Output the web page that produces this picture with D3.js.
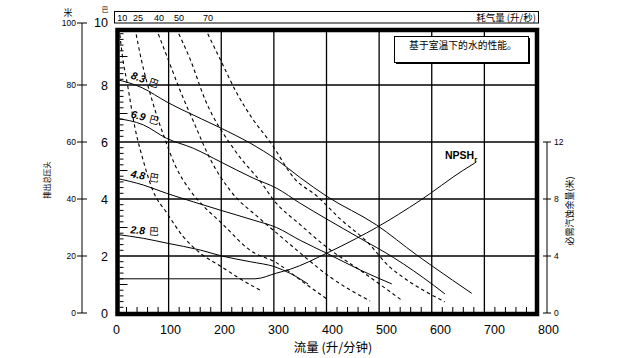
<!DOCTYPE html>
<html><head><meta charset="utf-8">
<script src="https://cdn.jsdelivr.net/npm/d3@7"></script>
<style>body{margin:0;background:#fff}text{font-family:"Liberation Sans",Arial,sans-serif}.cjk{font-family:"Noto Sans CJK SC",sans-serif}</style>
</head><body>
<svg id="c" width="643" height="358"></svg>
<script>
// ---------- data ----------
const flowTicks = [0,100,200,300,400,500,600,700,800];
const barTicks = [0,2,4,6,8,10];
const outerTicks = [0,20,40,60,80,100];
const npshTicks = [0,4,8,12];

const pressureNames = ["8.3","6.9","4.8","2.8"];
const p83Flow = [0,50,97,127,198,255,306,350,400,495,571,603,676];
const p83Head = [8.2,7.9,7.4,7.12,6.5,5.96,5.37,4.75,4.1,3.09,2.04,1.62,0.69];
const p69Flow = [0,52,96,147,198,261,305,350,400,464,527,603,625];
const p69Head = [6.83,6.6,6.13,5.78,5.31,4.73,4.38,3.85,3.3,2.62,1.95,0.98,0.67];
const p48Flow = [0,52,96,147,198,261,305,350,400,464,524];
const p48Head = [4.73,4.49,4.2,3.9,3.61,3.26,3.0,2.55,2.1,1.51,1.02];
const p28Flow = [0,52,97,160,201,255,302,331,365];
const p28Head = [2.76,2.62,2.45,2.21,2.0,1.8,1.62,1.39,1.02];

const airNames = ["10","25","40","50","70"];
const a10Flow = [6,13,21,36,51,70,97,127,160,198,236,277];
const a10Head = [10,8.9,8.1,6.5,5.4,4.3,3.5,2.7,2.1,1.65,1.2,0.77];
const a25Flow = [36,48,68,93,112,141,169,198,255,306,350,403];
const a25Head = [10,8.9,7.5,6.1,5.2,4.3,3.7,3.2,2.2,1.75,1.16,0.46];
const a40Flow = [76,99,122,150,179,217,274,312,344,407,483];
const a40Head = [10,8.9,7.8,6.6,5.4,4.3,3.3,2.7,2.2,1.26,0.42];
const a50Flow = [114,141,169,226,279,298,350,401,464,545];
const a50Head = [10,8.9,7.5,5.7,4.5,4.0,3.1,2.3,1.5,0.42];
const a70Flow = [169,198,230,260,293,340,382,426,477,521,545,625];
const a70Head = [10,8.9,7.7,6.8,6.0,4.7,4.1,3.3,2.5,1.6,1.26,0.39];

const npshFlow = [0,264,305,331,400,457,495,578,659,685];
const npshVal = [2.4,2.4,2.8,3.07,4.19,5.24,6.0,7.9,10.0,10.6];

// ---------- build ----------
const zip = (xs, ys) => xs.map((v,i)=>({x:v,y:ys[i]}));
const pressureSeries = [zip(p83Flow,p83Head),zip(p69Flow,p69Head),zip(p48Flow,p48Head),zip(p28Flow,p28Head)];
const airSeries = [zip(a10Flow,a10Head),zip(a25Flow,a25Head),zip(a40Flow,a40Head),zip(a50Flow,a50Head),zip(a70Flow,a70Head)];
const npsh = zip(npshFlow,npshVal);

const svg = d3.select("#c");
const x = d3.scaleLinear([0,800],[116,537]);
const xLab = d3.scaleLinear([0,800],[116,548]);
const y = d3.scaleLinear([0,10],[313,28]);
const yO = d3.scaleLinear([0,100],[313,28]);
const yR = d3.scaleLinear([0,12],[313,142]);

// grid
const g = svg.append("g").attr("stroke","#000").attr("stroke-width",1.3);
flowTicks.filter(v=>v>0&&v<800).forEach(v=>g.append("line").attr("x1",x(v)).attr("x2",x(v)).attr("y1",30).attr("y2",314));
barTicks.filter(v=>v>0&&v<10).forEach(v=>g.append("line").attr("x1",117).attr("x2",537).attr("y1",y(v)).attr("y2",y(v)));

// curves
const line = d3.line().x(d=>x(d.x)).y(d=>y(d.y)).curve(d3.curveMonotoneX);
const lineR = d3.line().x(d=>x(d.x)).y(d=>yR(d.y)).curve(d3.curveMonotoneX);
pressureSeries.forEach(s=>svg.append("path").attr("d",line(s)).attr("fill","none").attr("stroke","#000").attr("stroke-width",1));
airSeries.forEach(s=>svg.append("path").attr("d",line(s)).attr("fill","none").attr("stroke","#000").attr("stroke-width",1.1).attr("stroke-dasharray","3.5,3"));
svg.append("path").attr("d",lineR(npsh)).attr("fill","none").attr("stroke","#000").attr("stroke-width",1);

// frame
svg.append("rect").attr("x",117.5).attr("y",30).attr("width",419.5).attr("height",284)
  .attr("fill","none").attr("stroke","#000").attr("stroke-width",4.5);

// minor ticks
const mt = svg.append("g").attr("stroke","#000").attr("stroke-width",1);
d3.range(1,50).forEach(i=>{ if(i%10===0) return; const v=i/5; const len = (i%5===0)?8:4;
  mt.append("line").attr("x1",119.5).attr("x2",119.5+len).attr("y1",y(v)).attr("y2",y(v)); });
d3.range(1,40).forEach(i=>{ if(i%5===0) return; const v=i*20;
  mt.append("line").attr("x1",x(v)).attr("x2",x(v)).attr("y1",312).attr("y2",307); });

// legend box
svg.append("rect").attr("x",396).attr("y",38).attr("width",134).attr("height",26).attr("fill","#000");
svg.append("rect").attr("x",394.5).attr("y",36.5).attr("width",134).attr("height",26).attr("fill","#fff").attr("stroke","#000").attr("stroke-width",1);
svg.append("text").attr("class","cjk").attr("x",463).attr("y",49).attr("text-anchor","middle").attr("font-size",9.8).text("基于室温下的水的性能。");

// top air box
svg.append("rect").attr("x",114.5).attr("y",11.5).attr("width",424).attr("height",11.5).attr("fill","none").attr("stroke","#000").attr("stroke-width",1);
airSeries.forEach((s,i)=>svg.append("text").attr("x",x(s[0].x)+3).attr("y",21).attr("text-anchor","middle").attr("font-size",9).text(airNames[i]));
svg.append("text").attr("class","cjk").attr("x",536).attr("y",21).attr("text-anchor","end").attr("font-size",9.5).text("耗气量 (升/秒)");

// bottom labels
const bx = svg.append("g").attr("transform","translate(0,316)").call(d3.axisBottom(xLab).tickValues(flowTicks).tickSize(0).tickPadding(9).tickFormat(d3.format("d")));
bx.select(".domain").remove();
bx.selectAll("text").attr("font-size",12.5).attr("font-family","Liberation Sans").attr("fill","#000");
svg.append("text").attr("class","cjk").attr("x",333).attr("y",352).attr("text-anchor","middle").attr("font-size",12.5).text("流量 (升/分钟)");

// inner left labels (bar)
barTicks.forEach(v=>svg.append("text").attr("x",108).attr("y",v===10?22:y(v)).attr("dy","0.36em").attr("text-anchor","end").attr("font-size",12.5).text(v));
// outer left axis
const oa = svg.append("g").attr("stroke","#000").attr("stroke-width",1);
oa.append("line").attr("x1",82).attr("x2",82).attr("y1",23).attr("y2",313);
outerTicks.forEach(v=>{ const yy = v===100?23:yO(v);
  oa.append("line").attr("x1",77).attr("x2",87).attr("y1",yy).attr("y2",yy);
  svg.append("text").attr("x",76).attr("y",yy).attr("dy","0.36em").attr("text-anchor","end").attr("font-size",8.5).text(v); });
svg.append("text").attr("class","cjk").attr("x",68).attr("y",16).attr("text-anchor","middle").attr("font-size",9).text("米");
svg.append("text").attr("class","cjk").attr("x",105).attr("y",12).attr("text-anchor","middle").attr("font-size",6.5).text("巴");
svg.append("text").attr("class","cjk").attr("transform","translate(50,180) rotate(-90)").attr("text-anchor","middle").attr("font-size",7.5).text("排出总压头");

// right axis
const ra = svg.append("g").attr("stroke","#000").attr("stroke-width",1);
ra.append("line").attr("x1",547).attr("x2",547).attr("y1",yR(12)).attr("y2",yR(0));
npshTicks.forEach(v=>{ ra.append("line").attr("x1",543).attr("x2",551).attr("y1",yR(v)).attr("y2",yR(v));
  svg.append("text").attr("x",554).attr("y",yR(v)).attr("dy","0.36em").attr("font-size",8.5).text(v); });
svg.append("text").attr("class","cjk").attr("transform","translate(573,211) rotate(-90)").attr("text-anchor","middle").attr("font-size",9).text("必需汽蚀余量(米)");

// curve labels
const labelRot = [20,15,10,4];
pressureSeries.forEach((s,i)=>{
  const t = svg.append("text").attr("transform",`translate(${x(27)},${y(s[0].y)-1}) rotate(${labelRot[i]})`).attr("font-size",10.5);
  t.append("tspan").attr("font-weight","bold").attr("font-style","italic").text(pressureNames[i]);
  t.append("tspan").attr("class","cjk").attr("dx",4).attr("font-size",10).text("巴");
});
// NPSHr label
const nl = svg.append("text").attr("x",445).attr("y",159).attr("font-size",10.5).attr("font-weight","bold");
nl.append("tspan").text("NPSH");
nl.append("tspan").attr("dy",3).attr("font-size",8).text("r");
</script>
</body></html>
